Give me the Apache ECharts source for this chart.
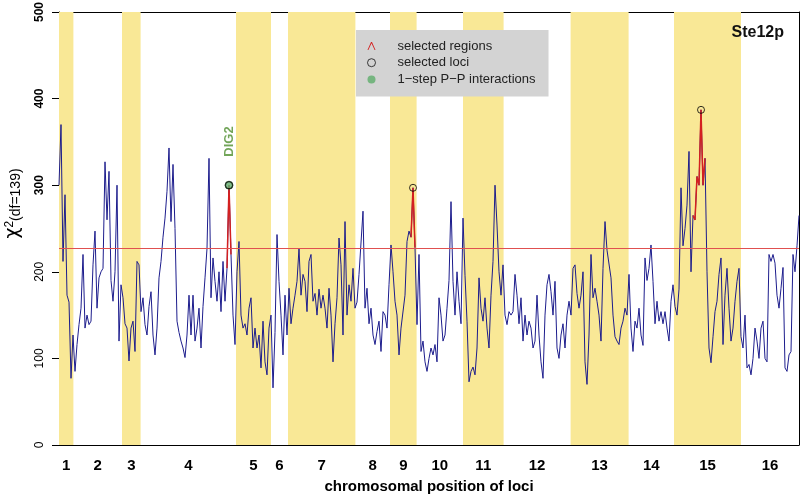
<!DOCTYPE html>
<html><head><meta charset="utf-8">
<script src="https://cdn.jsdelivr.net/npm/echarts@6/dist/echarts.min.js"></script>
<style>html,body{margin:0;padding:0;background:#fff}#c{width:802px;height:495px}</style>
</head><body><div id="c"></div>
<script>
// ---- data ----
const chromosomes = ['1','2','3','4','5','6','7','8','9','10','11','12','13','14','15','16'];
// chromosome boundaries, in locus-index units
const chromBounds = [0,7.2,31.5,40.8,88.5,106,114.5,148.2,165.5,178.8,202,222.3,255.8,284.8,307.5,341,370];
const chiSq = [
300,370,212,289,173,165,77,127,85,116,139,158,220,135,150,139,143,208,247,158,
193,200,204,327,260,316,190,166,200,300,120,185,170,140,135,97,135,143,108,212,
208,154,170,139,127,160,177,127,104,135,193,212,240,262,293,343,258,324,250,143,
130,120,112,101,127,173,127,173,120,135,158,112,160,193,227,331,170,216,189,166,
200,154,212,166,204,300,220,150,116,200,235,150,135,140,127,158,170,112,135,112,
127,89,143,96,81,135,150,66,130,243,189,150,104,173,127,181,140,158,173,189,
227,173,197,189,154,212,220,166,175,150,180,158,173,158,135,181,150,96,140,170,
239,208,127,258,150,185,166,204,158,165,197,196,270,158,181,140,158,127,116,131,
143,108,154,150,135,185,231,200,166,150,104,135,135,173,235,247,240,297,228,139,
220,108,120,96,85,100,112,104,116,96,170,150,120,127,158,190,281,189,150,200,
166,140,262,196,143,73,85,90,81,112,193,158,143,170,135,112,173,212,300,254,
200,173,208,150,139,154,150,154,197,173,140,170,120,150,127,143,135,112,120,173,
127,96,77,150,185,197,177,150,189,112,100,127,140,112,150,166,150,204,208,175,
158,173,200,96,70,127,220,170,181,166,150,120,204,258,225,227,193,150,125,120,
116,135,143,158,150,197,135,108,143,135,158,127,115,216,190,204,231,189,140,166,
143,154,140,154,135,120,166,185,160,150,180,297,230,250,277,339,200,265,260,310,
300,387,300,331,200,112,95,125,154,166,197,216,116,173,204,158,120,135,166,189,
204,125,112,150,89,93,81,100,135,120,100,135,143,100,96,220,212,220,210,173,
158,181,205,89,85,104,108,220,200,230,265
];
const threshold = 227;
const selectedRegions = [[84,86],[176,178],[317,323]];
const selectedLoci = [85,177,321];
const ppInteractions = [85];
const ppLabels = ['DIG2'];
const yTicks = [0,100,200,300,400,500];
const panelTitle = 'Ste12p';

// ---- derived ----
const centers = chromosomes.map((c,k)=> (chromBounds[k]+chromBounds[k+1])/2);
const bands = [];
for (let k=0;k<chromosomes.length;k+=2) bands.push([{xAxis:chromBounds[k]},{xAxis:chromBounds[k+1]}]);
const mainData = chiSq.map((v,i)=>[i,v]);
const redData = chiSq.map((v,i)=> selectedRegions.some(r=>i>=r[0]&&i<=r[1]) ? [i,v] : [i,null]);
const lociData = selectedLoci.map(i=>[i,chiSq[i]]);
const ppData = ppInteractions.map((i,k)=>({value:[i,chiSq[i]], name:ppLabels[k]}));
const xMax = chromBounds[chromBounds.length-1];

const chart = echarts.init(document.getElementById('c'), null, {renderer:'canvas'});
const FONT = 'Liberation Sans, Arial, Helvetica, sans-serif';
chart.setOption({
  animation:false,
  textStyle:{fontFamily:FONT},
  title:{text:panelTitle, right:13, top:20, textStyle:{fontFamily:FONT, fontSize:16, fontWeight:'bold', color:'#111'}},
  legend:{
    left:356, top:30, orient:'vertical', backgroundColor:'#d3d3d3', borderRadius:0,
    padding:[8,13,9,11], itemGap:0.7, itemWidth:8, itemHeight:9,
    lineStyle:{width:0, opacity:0},
    textStyle:{fontFamily:FONT, fontSize:13, color:'#222', padding:[0,0,0,17], lineHeight:16},
    selectedMode:false,
    data:[
      {name:'selected regions', icon:'path://M0,10L4.4,0L5.6,0L10,10L8.9,10L5,1.6L1.1,10Z', itemStyle:{color:'#d42020', borderWidth:0}},
      {name:'selected loci', icon:'circle', itemStyle:{color:'rgba(0,0,0,0)', borderColor:'#111', borderWidth:1}},
      {name:'1−step P−P interactions', icon:'circle', itemStyle:{color:'#5fae6c', borderWidth:0}}
    ]
  },
  grid:{left:59, right:3, top:12, bottom:50, containLabel:false, outerBoundsMode:'none'},
  xAxis:[{
    type:'value', min:0, max:xMax, position:'bottom',
    axisLine:{show:true, onZero:false, lineStyle:{color:'#000', width:1}},
    axisTick:{show:false}, splitLine:{show:false},
    axisLabel:{customValues:centers, margin:13, fontSize:15, fontWeight:'bold', color:'#000', fontFamily:FONT,
      formatter:(v)=>{const k=centers.findIndex(c=>Math.abs(c-v)<1e-6); return k>=0?chromosomes[k]:'';}},
    name:'chromosomal position of loci', nameLocation:'middle', nameGap:34,
    nameTextStyle:{fontSize:15, fontWeight:'bold', color:'#000', fontFamily:FONT}
  },{
    type:'value', min:0, max:xMax, position:'top',
    axisLine:{show:true, onZero:false, lineStyle:{color:'#000', width:1}},
    axisTick:{show:false}, axisLabel:{show:false}, splitLine:{show:false}
  }],
  yAxis:[{
    type:'value', min:yTicks[0], max:yTicks[yTicks.length-1], interval:100,
    axisLine:{show:true, onZero:false, lineStyle:{color:'#000', width:1}},
    axisTick:{show:true, length:7, lineStyle:{color:'#000'}},
    splitLine:{show:false},
    axisLabel:{rotate:90, margin:13, fontSize:12, color:'#000', fontFamily:FONT,
      formatter:(v)=> v>=300 ? '{b|'+v+'}' : '{n|'+v+'}',
      rich:{b:{fontWeight:'bold', fontSize:12, fontFamily:FONT}, n:{fontSize:12, fontFamily:FONT}}},
    name:'{chi|χ}{sup|2}{df|(df=139)}', nameLocation:'middle', nameRotate:90, nameGap:36,
    nameTextStyle:{color:'#000', fontFamily:FONT, padding:[0,0,0,50],
      rich:{chi:{fontSize:19, fontFamily:'DejaVu Sans', verticalAlign:'bottom'},
            sup:{fontSize:12, fontFamily:FONT, verticalAlign:'top'},
            df:{fontSize:14, fontFamily:FONT, verticalAlign:'bottom'}}}
  },{
    type:'value', min:yTicks[0], max:yTicks[yTicks.length-1], interval:100, position:'right',
    axisLine:{show:true, onZero:false, lineStyle:{color:'#000', width:1}},
    axisTick:{show:false}, axisLabel:{show:false}, splitLine:{show:false}
  }],
  series:[
    {name:'bands', type:'line', data:[], z:-1, silent:true,
     markArea:{silent:true, itemStyle:{color:'#f9e896'}, data:bands}},
    {name:'chi2', type:'line', data:mainData, showSymbol:false, symbol:'none', z:2,
     lineStyle:{color:'#1c1c8c', width:1},
     markLine:{silent:true, symbol:'none', label:{show:false}, lineStyle:{color:'#e05050', width:1, type:'solid'},
       data:[{yAxis:threshold}]}},
    {name:'selected regions', type:'line', data:redData, symbol:'none', connectNulls:false, z:3,
     itemStyle:{color:'#d42020'}, lineStyle:{color:'#d42020', width:1.5}},
    {name:'1−step P−P interactions', type:'scatter', data:ppData, z:4, symbol:'circle', symbolSize:8,
     itemStyle:{color:'#5fae6c', borderColor:'#2a4a2a', borderWidth:1},
     label:{show:true, formatter:'{b}', position:'top', rotate:90, align:'left', verticalAlign:'middle', distance:24,
       color:'#4f8f2f', fontWeight:'bold', fontSize:13, fontFamily:FONT}},
    {name:'selected loci', type:'scatter', data:lociData, z:5, symbol:'circle', symbolSize:7,
     itemStyle:{color:'rgba(0,0,0,0)', borderColor:'#000', borderWidth:1}}
  ]
});
</script></body></html>
